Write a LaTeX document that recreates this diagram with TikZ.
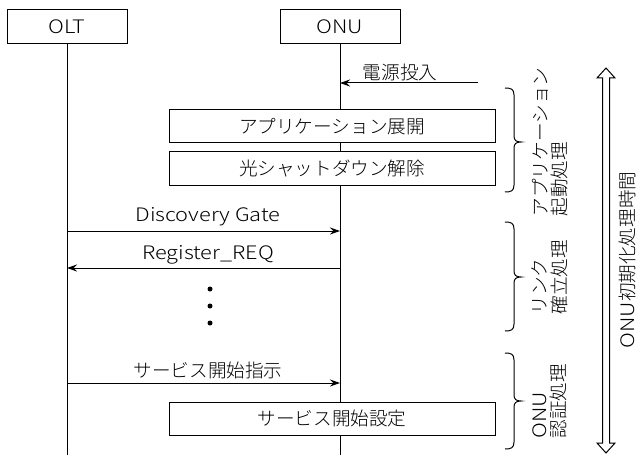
\documentclass[tikz,border=0pt]{standalone}
\usepackage{fontspec}
\setmainfont{Noto Sans CJK JP Light}
\newfontfamily\latw{Noto Sans CJK JP Light}[FakeStretch=1.17]
\usetikzlibrary{arrows.meta}
\begin{document}
\begin{tikzpicture}[x=1pt,y=-1pt,
  font=\fontsize{18.6}{19.5}\selectfont,
  lane/.style={draw, line width=1pt, fill=white, minimum width=120pt, minimum height=34pt, inner sep=0pt},
  procbox/.style={draw, line width=1pt, fill=white, minimum width=326pt, minimum height=33pt, inner sep=0pt},
  msg/.style={line width=1pt, -{Stealth[length=10pt,width=7pt]}},
  life/.style={line width=1pt},
  bracestyle/.style={line width=1pt},
  vlabel/.style={rotate=90, align=left, inner sep=0pt},
  msglabel/.style={inner sep=0pt},
  dotstyle/.style={circle, fill=black, inner sep=0pt, minimum size=5pt}
]
\useasboundingbox (0,0) rectangle (639,457);

% lifelines
\node[lane] (olt) at (67,27) {\latw OLT};
\node[lane] (onu) at (340,27) {\latw ONU};
\coordinate (oltend) at (67,455);
\coordinate (onuend) at (340,455);
\draw[life] (olt.south) -- (oltend);
\draw[life] (onu.south) -- (onuend);

% power on
\coordinate (pwrS) at (478,83);
\coordinate (pwrE) at (340,83);
\draw[msg] (pwrS) -- (pwrE);
\node[msglabel] (pwrlabel) at (400,72) {電源投入};

% process boxes
\node[procbox] (app) at (332,126.5) {アプリケーション展開};
\node[procbox] (opt) at (332,168.5) {光シャットダウン解除};

% discovery gate
\coordinate (dgS) at (67,231);
\coordinate (dgE) at (340,231);
\draw[msg] (dgS) -- (dgE);
\node[msglabel] (dglabel) at (208,217) {\latw Discovery Gate};

% register req
\coordinate (rrS) at (340,268);
\coordinate (rrE) at (67,268);
\draw[msg] (rrS) -- (rrE);
\node[msglabel] (rrlabel) at (208,255) {\latw Register\_REQ};

% dots
\node[dotstyle] (d1) at (210,289) {};
\node[dotstyle] (d2) at (210,306) {};
\node[dotstyle] (d3) at (210,323) {};

% service start
\coordinate (ssS) at (67,383);
\coordinate (ssE) at (340,383);
\draw[msg] (ssS) -- (ssE);
\node[msglabel] (sslabel) at (208,370) {サービス開始指示};

\node[procbox] (svc) at (332,418.5) {サービス開始設定};

% braces
\draw[bracestyle] (505,88) .. controls (511,88) and (514,89) .. (514,95) -- (514,136)
  .. controls (514,140) and (516,142) .. (521,142)
  .. controls (516,142) and (514,144) .. (514,148) -- (514,185)
  .. controls (514,191) and (511,192) .. (505,192);
\draw[bracestyle] (505,222) .. controls (511,222) and (514,223) .. (514,229) -- (514,271)
  .. controls (514,275) and (516,277) .. (521,277)
  .. controls (516,277) and (514,279) .. (514,283) -- (514,324)
  .. controls (514,330) and (511,331) .. (505,331);
\draw[bracestyle] (505,353) .. controls (511,353) and (514,354) .. (514,360) -- (514,395)
  .. controls (514,399) and (516,401) .. (521,401)
  .. controls (516,401) and (514,403) .. (514,407) -- (514,442)
  .. controls (514,448) and (511,449) .. (505,449);

\node[vlabel] (lab1) at (550,142) {アプリケーション\\起動処理};
\node[vlabel] (lab2) at (550,277) {リンク\\確立処理};
\node[vlabel] (lab3) at (550,401) {{\latw ONU}\\認証処理};

% total time double arrow
\draw[line width=1pt, line join=miter] (606,68) -- (615,78) -- (609.5,78) -- (609.5,443)
  -- (615,443) -- (606,453) -- (597,443) -- (602.5,443) -- (602.5,78) -- (597,78) -- cycle;
\node[rotate=90, inner sep=0pt] (total) at (627,260) {{\latw ONU}初期化処理時間};
\end{tikzpicture}
\end{document}
